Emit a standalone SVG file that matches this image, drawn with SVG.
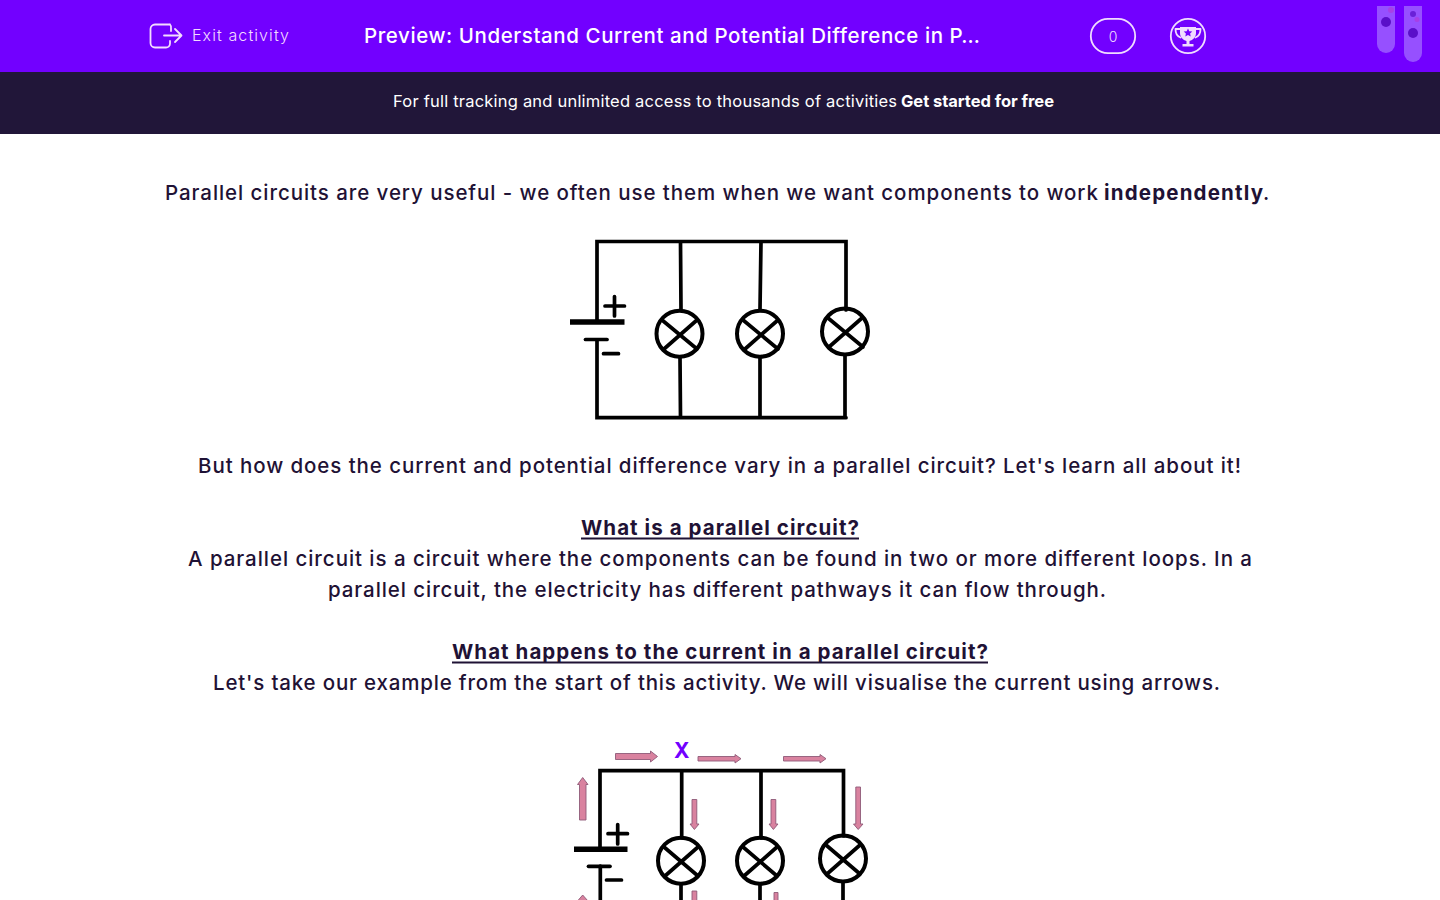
<svg xmlns="http://www.w3.org/2000/svg" width="1440" height="900" viewBox="0 0 1440 900">
<style>
text{font-family:"Inter","Open Sans","Liberation Sans",sans-serif}
.b{font-size:20.500px;fill:#1f1235;font-weight:500}
.bb{font-size:20.500px;fill:#1f1235;font-weight:700}
.w{fill:none;stroke:#000;stroke-width:3.700;stroke-linecap:round}
.p{fill:none;stroke:#000;stroke-width:5.500}
.bulb{fill:none;stroke:#000;stroke-width:4}
.ic{fill:none;stroke:#f3dcff;stroke-width:1.800;stroke-linecap:round;stroke-linejoin:round}
.ar{fill:#d9829f;stroke:#8f5a78;stroke-width:.9}
.u{stroke:#1f1235;stroke-width:2;fill:none}
</style>
<rect width="1440" height="900" fill="#fff"/>
<g id="header">
<rect width="1440" height="72" fill="#7200ff"/>
<g id="exit">
<path class="ic" d="M170 24.500H155a4.500 4.500 0 0 0-4.500 4.500V43a4.500 4.500 0 0 0 4.500 4.500H166a4 4 0 0 0 4-4V41M170 24.500a4 4 0 0 1 1 3.500V31M164 35.500H181M175 29l6.500 6.500L175 42"/>
<text x="192" y="41" font-size="16" font-weight="300" fill="#f3dcff" textLength="97" lengthAdjust="spacing">Exit activity</text>
</g>
<text id="title" x="364" y="43" font-size="20.500" font-weight="500" fill="#fff" textLength="616" lengthAdjust="spacing">Preview: Understand Current and Potential Difference in P…</text>
<g id="score"><rect x="1090.800" y="18.800" width="44.400" height="34.400" rx="17.200" fill="none" stroke="#f0dcff" stroke-width="1.800"/><text x="1113" y="41.500" font-size="14" font-weight="300" fill="#f0dcff" text-anchor="middle">0</text></g>
<g id="trophy"><circle cx="1188" cy="36" r="17.200" fill="none" stroke="#f0dcff" stroke-width="1.800"/>
<path d="M1180 27h16v6c0 4-3 7-6.500 8v3h4v2.500h-11V44h4v-3c-3.500-1-6.500-4-6.500-8z" fill="#f0dcff"/>
<path class="ic" d="M1180 29h-4.500c0 5 2 7.500 5 8.500M1196 29h4.500c0 5-2 7.500-5 8.500" stroke-width="1.500"/>
<path d="M1188 28.500l1.300 2.700 3 .4-2.200 2 .6 3-2.700-1.500-2.700 1.500.6-3-2.200-2 3-.4z" fill="#7200ff"/></g>
<g id="tubes">
<path d="M1377 6h18v38a9 9 0 0 1-18 0z" fill="#9650ff"/>
<path d="M1404 6h18v47a9 9 0 0 1-18 0z" fill="#9650ff"/>
<circle cx="1386" cy="22" r="5" fill="#5a10c8"/><circle cx="1391" cy="10" r="3" fill="#a83fe6"/>
<circle cx="1413" cy="33" r="5" fill="#5a10c8"/><circle cx="1413" cy="14" r="3" fill="#6a20d8"/><circle cx="1417" cy="19.500" r="2.500" fill="#a83fe6"/>
</g>
</g>
<g id="banner">
<rect y="72" width="1440" height="62" fill="#211639"/>
<text x="393" y="107" font-size="16.500" fill="#fff" textLength="504" lengthAdjust="spacing">For full tracking and unlimited access to thousands of activities</text>
<text x="901" y="107" font-size="16.500" font-weight="700" fill="#fff" textLength="153" lengthAdjust="spacing">Get started for free</text>
</g>
<g id="content">
<text class="b" x="165" y="200" textLength="933" lengthAdjust="spacing">Parallel circuits are very useful - we often use them when we want components to work</text>
<text class="bb" x="1104" y="200" textLength="159" lengthAdjust="spacing">independently</text>
<text class="b" x="1263" y="200">.</text>
<text class="b" x="198" y="473" textLength="1043" lengthAdjust="spacing">But how does the current and potential difference vary in a parallel circuit? Let's learn all about it!</text>
<text class="bb" x="581" y="535" textLength="278" lengthAdjust="spacing">What is a parallel circuit?</text>
<path class="u" d="M581 538.500H859"/>
<text class="b" x="188" y="566" textLength="1064" lengthAdjust="spacing">A parallel circuit is a circuit where the components can be found in two or more different loops. In a</text>
<text class="b" x="328" y="597" textLength="778" lengthAdjust="spacing">parallel circuit, the electricity has different pathways it can flow through.</text>
<text class="bb" x="452" y="659" textLength="536" lengthAdjust="spacing">What happens to the current in a parallel circuit?</text>
<path class="u" d="M452 662.500H988"/>
<text class="b" x="213" y="690" textLength="1007" lengthAdjust="spacing">Let's take our example from the start of this activity. We will visualise the current using arrows.</text>
</g>
<g id="circuit-1">
<g id="c1-connectors">
<path class="w" d="M597 322V241.500H846V310M680.500 241.500L681 310M761 241.500L760 310M680 357L680.500 417.500M760 358V417.500M845 355V417.500M597 340V417.700H846"/>
</g>
<g id="c1-battery">
<path class="p" d="M570 322H624.500"/>
<path class="w" stroke-linecap="butt" d="M585.500 339.500H607"/>
<path class="w" stroke-linecap="butt" d="M605 306H624.500M614.500 296.500V316M603.500 353.700H618.500"/>
</g>
<g id="c1-bulb1"><circle class="bulb" cx="679.500" cy="333.700" r="23" /><path class="w" d="M662 320L697 349M697 320L664 349"/></g>
<g id="c1-bulb2"><circle class="bulb" cx="760" cy="333.700" r="23"/><path class="w" d="M743 320L778 349M778 320L745 349"/></g>
<g id="c1-bulb3"><circle class="bulb" cx="845" cy="331.500" r="23"/><path class="w" d="M828 318L863 347M862 318L829 347"/></g>
</g>
<g id="circuit-2">
<g id="c2-connectors">
<path class="w" d="M600 848V770.700H843.500V836M681.700 770.700V838M761 770.700V838M600.300 866V900M681 884V900M760 884V900M843 882V900"/>
</g>
<g id="c2-battery">
<path class="p" d="M574 849.300H627.500"/>
<path class="w" stroke-linecap="butt" d="M588.500 866.300H610"/>
<path class="w" stroke-linecap="butt" d="M608 833.700H627.500M617.700 824.500V844M606.500 880H621.500"/>
</g>
<g id="c2-bulb1"><circle class="bulb" cx="681" cy="860.700" r="23"/><path class="w" d="M664 847L698 876M698 847L665 876"/></g>
<g id="c2-bulb2"><circle class="bulb" cx="760" cy="860.700" r="23"/><path class="w" d="M743 847L777 876M777 847L744 876"/></g>
<g id="c2-bulb3"><circle class="bulb" cx="843" cy="858.500" r="23"/><path class="w" d="M826 845L860 874M860 845L827 874"/></g>
<g id="c2-arrows">
<path class="ar" d="M615.500 753.500H650.500V751L657.500 756.500L650.500 762V759.500H615.500z"/>
<path class="ar" d="M698 756.500H735V754.500L741 758.700L735 763V761H698z"/>
<path class="ar" d="M783.500 756.500H820V754.500L826 758.700L820 763V761H783.500z"/>
<path class="ar" d="M579.500 820V784.500H577.500L582.700 777.500L588 784.500H586V820z"/>
<path class="ar" d="M692 799.500H696.800V824H699L694.400 829.500L690 824H692z"/>
<path class="ar" d="M771 799.500H775.800V824H778L773.400 829.500L769 824H771z"/>
<path class="ar" d="M855.800 787H860.500V824H863L858.200 829.500L853.500 824H855.800z"/>
<path class="ar" d="M579.500 905V901H577.500L582.700 895L588 901H586V905z"/>
<path class="ar" d="M692 891H696.800V905H692z"/>
<path class="ar" d="M774 892.500H778V905H774z"/>
</g>
<text id="x-label" x="681.700" y="758" font-size="21" font-weight="700" fill="#7200ff" text-anchor="middle">X</text>
</g>
</svg>
